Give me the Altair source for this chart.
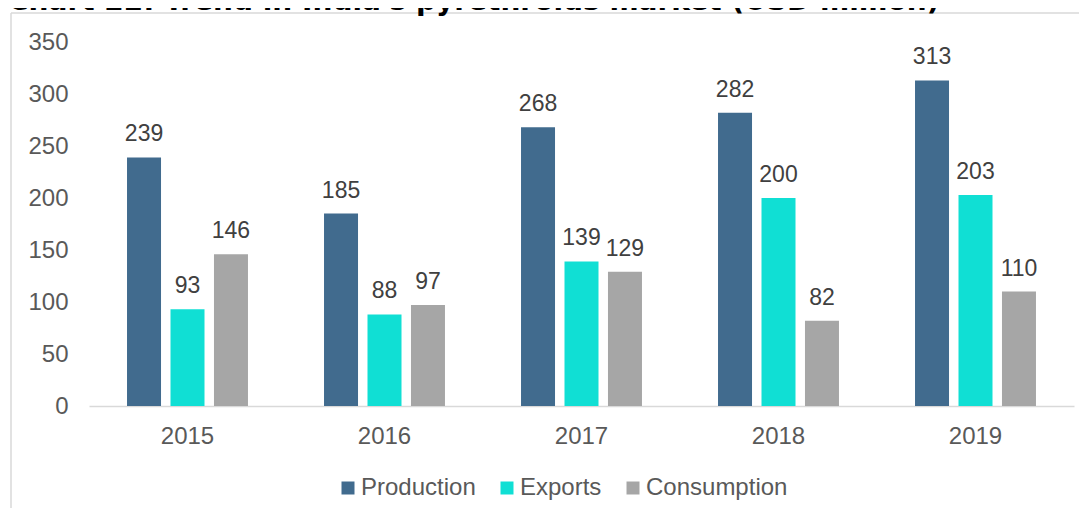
import altair as alt
import pandas as pd

years = ["2015", "2016", "2017", "2018", "2019"]
series = ["Production", "Exports", "Consumption"]
production = [239, 185, 268, 282, 313]
exports = [93, 88, 139, 200, 203]
consumption = [146, 97, 129, 82, 110]
colors = ["#416B8E", "#10DFD4", "#A6A6A6"]
y_ticks = [0, 50, 100, 150, 200, 250, 300, 350]
title_text = "Chart 22: Trend in India's pyrethroids market (USD million)"

rows = []
for i, yr in enumerate(years):
    for s, vals in zip(series, [production, exports, consumption]):
        rows.append({"year": yr, "series": s, "value": vals[i]})
df = pd.DataFrame(rows)

FONT = "Liberation Sans"

base = alt.Chart(df).encode(
    x=alt.X(
        "year:N",
        sort=years,
        title=None,
        scale=alt.Scale(paddingInner=0.386, paddingOuter=0.193),
        axis=alt.Axis(
            labelAngle=0, labelFont=FONT, labelFontSize=24, labelColor="#595959",
            labelPadding=18, ticks=False, tickSize=0, domainColor="#D9D9D9",
            domainWidth=1.5, grid=False,
        ),
    ),
    xOffset=alt.XOffset(
        "series:N", sort=series,
        scale=alt.Scale(paddingInner=0.218, paddingOuter=0),
    ),
    y=alt.Y(
        "value:Q",
        title=None,
        scale=alt.Scale(domain=[0, 350], nice=False),
        axis=alt.Axis(
            values=y_ticks, labelFont=FONT, labelFontSize=24, labelColor="#595959",
            labelPadding=21, ticks=False, tickSize=0, domain=False, grid=False,
        ),
    ),
)

bars = base.mark_bar().encode(
    color=alt.Color(
        "series:N",
        sort=series,
        scale=alt.Scale(domain=series, range=colors),
        legend=alt.Legend(
            title=None, orient="none", direction="horizontal",
            legendX=247, legendY=434,
            symbolType="square", symbolSize=169, symbolStrokeWidth=0,
            labelFont=FONT, labelFontSize=24, labelColor="#595959",
            labelOffset=1, columnPadding=19,
        ),
    )
)

labels = base.mark_text(
    font=FONT, fontSize=23, color="#404040", baseline="alphabetic", dy=-16
).encode(text="value:Q")

one = alt.Data(values=[{"k": 1}])

border_top = alt.Chart(one).mark_rule(color="#D9D9D9", strokeWidth=1.5).encode(
    x=alt.value(-78), x2=alt.value(1100), y=alt.value(-29)
)
border_left = alt.Chart(one).mark_rule(color="#D9D9D9", strokeWidth=1.5).encode(
    x=alt.value(-78), y=alt.value(-29), y2=alt.value(600)
)

title = alt.Chart(one).mark_text(
    font="DejaVu Sans", fontWeight="bold", fontSize=28, color="#000000",
    align="left", baseline="alphabetic",
).encode(x=alt.value(-81), y=alt.value(-32), text=alt.value(title_text))

chart = alt.layer(border_top, border_left, title, bars, labels).properties(
    width=985,
    height=364,
    background="#FFFFFF",
    autosize=alt.AutoSizeParams(type="none"),
    padding={"left": 81, "top": 34, "right": 5, "bottom": 102},
).configure_view(strokeWidth=0, strokeOpacity=0, stroke=None)

chart.save("out.html", embed_options={"renderer": "svg", "actions": False})
